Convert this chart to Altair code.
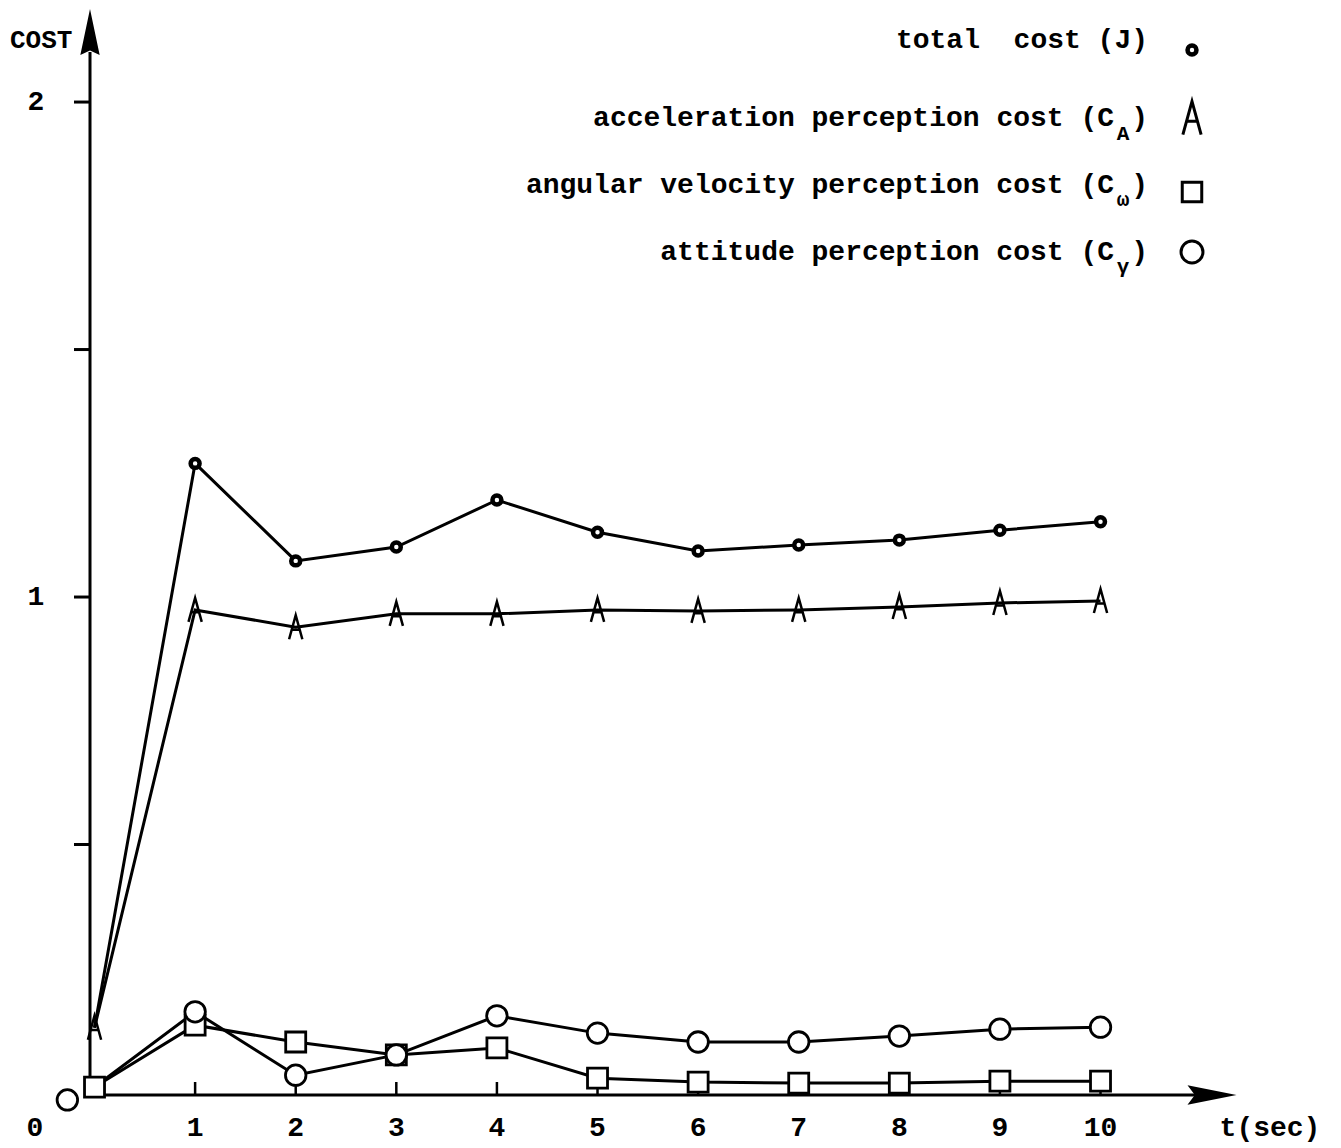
import altair as alt
import pandas as pd

# ---------------- data ----------------
t = [0, 1, 2, 3, 4, 5, 6, 7, 8, 9, 10]
total_cost = [0.13, 1.270, 1.073, 1.101, 1.196, 1.131, 1.093, 1.105, 1.115, 1.135, 1.152]
accel_cost = [0.13, 0.974, 0.939, 0.966, 0.966, 0.974, 0.972, 0.974, 0.980, 0.988, 0.992]
omega_cost = [0.010, 0.135, 0.101, 0.075, 0.089, 0.028, 0.020, 0.018, 0.018, 0.022, 0.022]
gamma_cost = [0.010, 0.162, 0.034, 0.075, 0.154, 0.119, 0.101, 0.101, 0.113, 0.127, 0.131]
gamma_start_t = [-0.27]
gamma_start_v = [-0.016]

x_ticks = [1, 2, 3, 4, 5, 6, 7, 8, 9, 10]
x_tick_labels = ["1", "2", "3", "4", "5", "6", "7", "8", "9", "10"]
y_ticks = [0.5, 1.0, 1.5, 2.0]
y_label_vals = [2.0, 1.0]
y_label_text = ["2", "1"]

NB = "\u00a0"
legend_total = "total" + NB + NB + "cost" + NB + "(J)"
legend_main = [
    "acceleration perception cost (C",
    "angular velocity perception cost (C",
    "attitude perception cost (C",
]
legend_sub = ["A", "\u03c9", "\u03b3"]

FONT = "Liberation Mono"
WEIGHT = "bold"

# ---------------- scales ----------------
xs = alt.Scale(domain=[-0.860, 12.311], nice=False, zero=False)
ys = alt.Scale(domain=[-0.1131, 2.190], nice=False, zero=False)

def X(field):
    return alt.X(field, type="quantitative", scale=xs, axis=None)

def Y(field):
    return alt.Y(field, type="quantitative", scale=ys, axis=None)

rows = []
for name, vals in [("total", total_cost), ("accel", accel_cost),
                   ("omega", omega_cost), ("gamma", gamma_cost)]:
    for ti, vi in zip(t, vals):
        rows.append({"series": name, "t": ti, "v": vi})
df = pd.DataFrame(rows)

lines = alt.Chart(df).mark_line(color="black", strokeWidth=3).encode(
    x=X("t"), y=Y("v"), detail="series:N", order="t:Q"
)

A_PATH = "M-0.55,1L0,-1L0.55,1M-0.32,0.2L0.32,0.2"

total_pts = alt.Chart(df).transform_filter(
    (alt.datum.series == "total") & (alt.datum.t > 0)
).mark_point(shape="circle", filled=True, fill="white", stroke="black",
             strokeWidth=4.5, size=80, opacity=1).encode(x=X("t"), y=Y("v"))

accel_pts = alt.Chart(df).transform_filter(alt.datum.series == "accel").mark_point(
    shape=A_PATH, filled=False, stroke="black", strokeWidth=2.5, size=580, opacity=1
).encode(x=X("t"), y=Y("v"))

omega_pts = alt.Chart(df).transform_filter(alt.datum.series == "omega").mark_point(
    shape="square", filled=True, fill="white", stroke="black", strokeWidth=2.8,
    size=400, opacity=1
).encode(x=X("t"), y=Y("v"))

gamma_pts = alt.Chart(df).transform_filter(
    (alt.datum.series == "gamma") & (alt.datum.t > 0)
).mark_point(shape="circle", filled=True, fill="white", stroke="black",
             strokeWidth=2.8, size=420, opacity=1).encode(x=X("t"), y=Y("v"))

gamma_start = alt.Chart(pd.DataFrame({"t": gamma_start_t, "v": gamma_start_v})).mark_point(
    shape="circle", filled=True, fill="white", stroke="black", strokeWidth=2.8,
    size=420, opacity=1
).encode(x=X("t"), y=Y("v"))

# ---------------- axes (drawn by hand) ----------------
one = pd.DataFrame({"a": [0]})

y_axis = alt.Chart(one).mark_rule(color="black", strokeWidth=3).encode(
    x=alt.value(82), y=alt.value(1087), y2=alt.value(44)
)
x_axis = alt.Chart(one).mark_rule(color="black", strokeWidth=3).encode(
    x=alt.value(82), x2=alt.value(1200), y=alt.value(1087)
)
y_arrow = alt.Chart(one).mark_point(
    shape="M0,-1L0.42,1L0,0.8L-0.42,1Z", filled=True, color="black", size=2116, opacity=1
).encode(x=alt.value(82), y=alt.value(24))
x_arrow = alt.Chart(one).mark_point(
    shape="M1,0L-1,-0.4L-0.7,0L-1,0.4Z", filled=True, color="black", size=2401, opacity=1
).encode(x=alt.value(1204), y=alt.value(1087))

yt = alt.Chart(pd.DataFrame({"v": y_ticks})).mark_rule(color="black", strokeWidth=3).encode(
    x=alt.value(66), x2=alt.value(82), y=Y("v")
)
xt = alt.Chart(pd.DataFrame({"t": x_ticks})).mark_rule(color="black", strokeWidth=2.5).encode(
    x=X("t"), y=alt.value(1074), y2=alt.value(1087)
)

xl = alt.Chart(pd.DataFrame({"t": x_ticks, "lab": x_tick_labels})).mark_text(
    font=FONT, fontSize=28, fontWeight=WEIGHT, color="black", baseline="middle", align="center"
).encode(x=X("t"), y=alt.value(1120), text="lab:N")

yl = alt.Chart(pd.DataFrame({"v": y_label_vals, "lab": y_label_text})).mark_text(
    font=FONT, fontSize=28, fontWeight=WEIGHT, color="black", baseline="middle", align="center"
).encode(x=alt.value(28), y=Y("v"), text="lab:N")

zero_lab = alt.Chart(one).mark_text(
    font=FONT, fontSize=28, fontWeight=WEIGHT, color="black", baseline="middle", align="center",
    text="0"
).encode(x=alt.value(27), y=alt.value(1120))

t_lab = alt.Chart(one).mark_text(
    font=FONT, fontSize=28, fontWeight=WEIGHT, color="black", baseline="middle", align="center",
    text="t(sec)"
).encode(x=alt.value(1262), y=alt.value(1120))

cost_lab = alt.Chart(one).mark_text(
    font=FONT, fontSize=26, fontWeight=WEIGHT, color="black", baseline="middle", align="left",
    text="COST"
).encode(x=alt.value(2), y=alt.value(32))

# ---------------- legend ----------------
leg_total = alt.Chart(one).mark_text(
    font=FONT, fontSize=28, fontWeight=WEIGHT, color="black", baseline="middle", align="right",
    text=legend_total
).encode(x=alt.value(1140), y=alt.value(32))

leg_df = pd.DataFrame({"txt": legend_main, "py": [110, 177, 244]})
leg_txt = alt.Chart(leg_df).mark_text(
    font=FONT, fontSize=28, fontWeight=WEIGHT, color="black", baseline="middle", align="right"
).encode(x=alt.value(1106), y=alt.Y("py:Q", scale=None, axis=None), text="txt:N")

leg_close = alt.Chart(leg_df).mark_text(
    font=FONT, fontSize=28, fontWeight=WEIGHT, color="black", baseline="middle", align="right",
    text=")"
).encode(x=alt.value(1140), y=alt.Y("py:Q", scale=None, axis=None))

sub_df = pd.DataFrame({"txt": legend_sub, "py": [126, 192, 259]})
leg_sub = alt.Chart(sub_df).mark_text(
    font=FONT, fontSize=21, fontWeight=WEIGHT, color="black", baseline="middle", align="center"
).encode(x=alt.value(1115), y=alt.Y("py:Q", scale=None, axis=None), text="txt:N")

lg_total = alt.Chart(one).mark_point(shape="circle", filled=True, fill="white", stroke="black",
                                     strokeWidth=4.5, size=80, opacity=1).encode(
    x=alt.value(1184), y=alt.value(42))
lg_accel = alt.Chart(one).mark_point(shape=A_PATH, filled=False, stroke="black",
                                     strokeWidth=3, size=1100, opacity=1).encode(
    x=alt.value(1184), y=alt.value(110))
lg_omega = alt.Chart(one).mark_point(shape="square", filled=True, fill="white", stroke="black",
                                     strokeWidth=3, size=380, opacity=1).encode(
    x=alt.value(1184), y=alt.value(184))
lg_gamma = alt.Chart(one).mark_point(shape="circle", filled=True, fill="white", stroke="black",
                                     strokeWidth=3, size=480, opacity=1).encode(
    x=alt.value(1184), y=alt.value(244))

chart = alt.layer(
    y_axis, x_axis, y_arrow, x_arrow, yt, xt,
    lines, total_pts, accel_pts, omega_pts, gamma_pts, gamma_start,
    xl, yl, zero_lab, t_lab, cost_lab,
    leg_total, leg_txt, leg_close, leg_sub, lg_total, lg_accel, lg_omega, lg_gamma,
).properties(
    width=1325, height=1140,
    autosize=alt.AutoSizeParams(type="none"),
    padding=0,
    background="white",
).configure_view(stroke=None)

chart.save("out.html", embed_options={"renderer": "svg", "actions": False})
